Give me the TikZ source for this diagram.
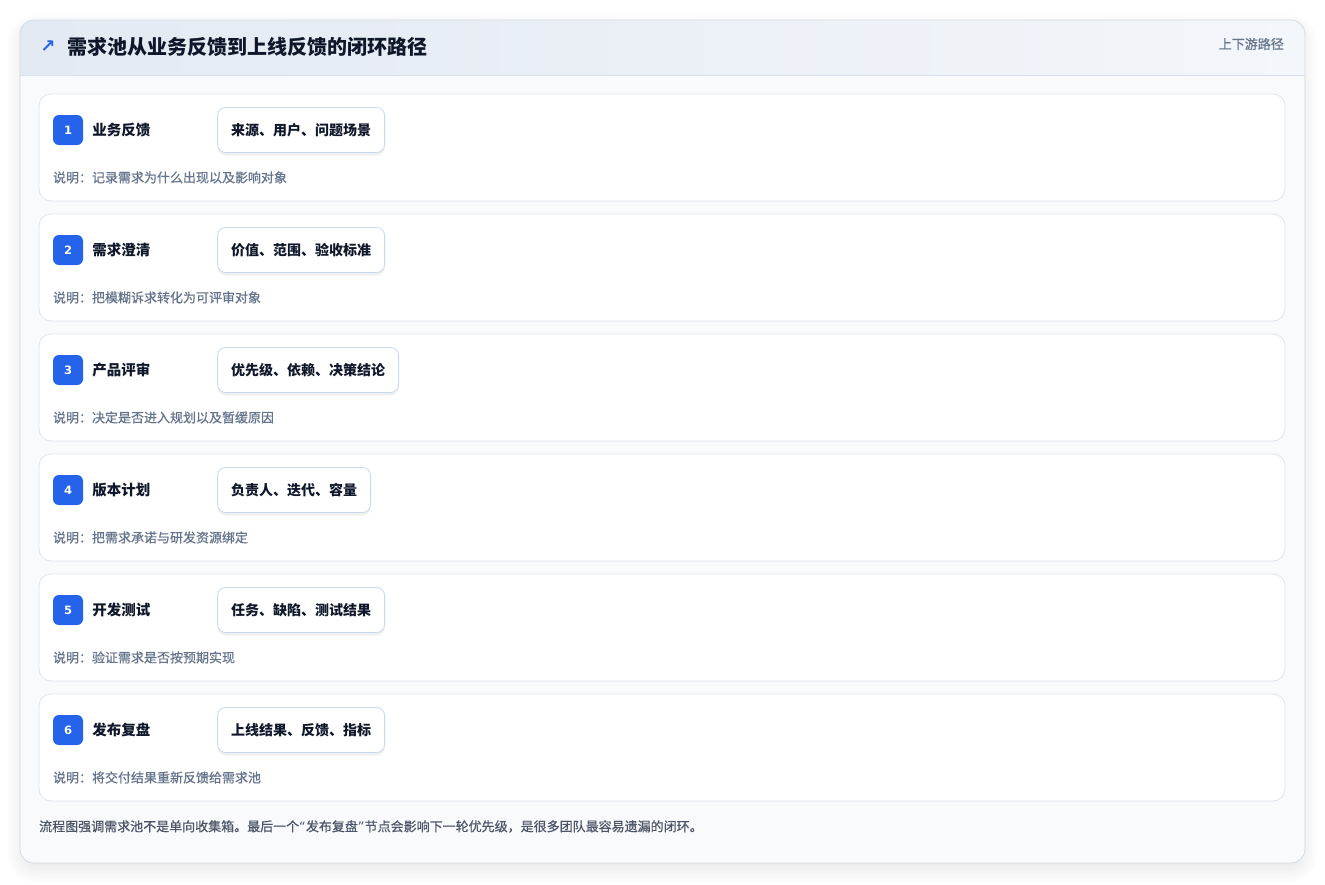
\documentclass[tikz,border=0pt]{standalone}
\usepackage{fontspec}
\setmainfont{Noto Sans CJK SC}
\newfontfamily\symfont{DejaVu Sans}
\usetikzlibrary{positioning, calc, shadows, shadows.blur}

\definecolor{cardline}{HTML}{D3DAE3}
\definecolor{cardfill}{HTML}{F8FAFC}
\definecolor{headleft}{HTML}{E3EAF3}
\definecolor{headright}{HTML}{F3F6FA}
\definecolor{headline}{HTML}{D6E0EC}
\definecolor{rowline}{HTML}{DCE5F0}
\definecolor{tagline}{HTML}{C9D8EC}
\definecolor{badgeblue}{HTML}{2563EB}
\definecolor{ink}{HTML}{0F172A}
\definecolor{notegray}{HTML}{64748B}
\definecolor{footgray}{HTML}{4B5567}

\tikzset{
    rowbox/.style={draw=rowline, fill=white, rounded corners=12pt, line width=0.8pt,
        minimum width=1246pt, minimum height=107pt, inner sep=0pt, outer sep=0pt},
    badge/.style={fill=badgeblue, rounded corners=6pt, minimum size=30pt, inner sep=0pt,
        text=white, font=\symfont\bfseries\fontsize{11.5}{12}\selectfont},
    steptitle/.style={inner sep=0pt, text=ink, font=\bfseries\fontsize{14.5}{15}\selectfont},
    tagbox/.style={draw=tagline, fill=white, rounded corners=8pt, line width=0.8pt,
        minimum height=45pt, inner xsep=13.5pt, text=ink,
        font=\bfseries\fontsize{14}{14}\selectfont,
        drop shadow={shadow xshift=0pt, shadow yshift=-3pt, opacity=0.06, fill=black}},
    note/.style={inner sep=0pt, text=notegray,
        font=\fontsize{13}{13}\selectfont\addfontfeature{FakeBold=0.6}},
}

\begin{document}
\begin{tikzpicture}[x=1pt, y=-1pt, node distance=13pt]

    \useasboundingbox (0,0) rectangle (1325,884);

    % outer card
    \path[fill=cardfill, rounded corners=14pt,
        blur shadow={shadow xshift=0pt, shadow yshift=-7pt, shadow opacity=10,
            shadow blur radius=14pt, shadow blur steps=14}]
        (20,20) rectangle (1305,863);
    \begin{scope}
        \clip[rounded corners=14pt] (20,20) rectangle (1305,863);
        \shade[left color=headleft, right color=headright] (20,20) rectangle (1305,75);
    \end{scope}
    \draw[headline, line width=0.8pt] (20.4,75) -- (1304.6,75);
    \draw[cardline, line width=0.8pt, rounded corners=14pt] (20,20) rectangle (1305,863);

    % header
    \node[text=badgeblue, font=\symfont\bfseries\fontsize{18}{18}\selectfont, inner sep=0pt]
        (arrow) at (48,47) {↗};
    \node[anchor=west, inner sep=0pt, text=ink, font=\bfseries\fontsize{20}{20}\selectfont]
        (title) at (67,47) {需求池从业务反馈到上线反馈的闭环路径};
    \node[anchor=east, inner sep=0pt, text=notegray,
        font=\fontsize{13}{13}\selectfont\addfontfeature{FakeBold=0.6}]
        (scope) at (1284,44) {上下游路径};

    % rows
    \node[rowbox, anchor=north west] (row1) at (39,94) {};
    \node[rowbox, below=of row1] (row2) {};
    \node[rowbox, below=of row2] (row3) {};
    \node[rowbox, below=of row3] (row4) {};
    \node[rowbox, below=of row4] (row5) {};
    \node[rowbox, below=of row5] (row6) {};

    \node[badge] (b1) at ($(row1.north west)+(29,36)$) {1};
    \node[steptitle, right=9pt of b1] (s1) {业务反馈};
    \node[tagbox, right=134pt of b1] (t1) {来源、用户、问题场景};
    \node[note, below right=26pt and 0pt of b1.south west] (n1) {说明：记录需求为什么出现以及影响对象};

    \node[badge] (b2) at ($(row2.north west)+(29,36)$) {2};
    \node[steptitle, right=9pt of b2] (s2) {需求澄清};
    \node[tagbox, right=134pt of b2] (t2) {价值、范围、验收标准};
    \node[note, below right=26pt and 0pt of b2.south west] (n2) {说明：把模糊诉求转化为可评审对象};

    \node[badge] (b3) at ($(row3.north west)+(29,36)$) {3};
    \node[steptitle, right=9pt of b3] (s3) {产品评审};
    \node[tagbox, right=134pt of b3] (t3) {优先级、依赖、决策结论};
    \node[note, below right=26pt and 0pt of b3.south west] (n3) {说明：决定是否进入规划以及暂缓原因};

    \node[badge] (b4) at ($(row4.north west)+(29,36)$) {4};
    \node[steptitle, right=9pt of b4] (s4) {版本计划};
    \node[tagbox, right=134pt of b4] (t4) {负责人、迭代、容量};
    \node[note, below right=26pt and 0pt of b4.south west] (n4) {说明：把需求承诺与研发资源绑定};

    \node[badge] (b5) at ($(row5.north west)+(29,36)$) {5};
    \node[steptitle, right=9pt of b5] (s5) {开发测试};
    \node[tagbox, right=134pt of b5] (t5) {任务、缺陷、测试结果};
    \node[note, below right=26pt and 0pt of b5.south west] (n5) {说明：验证需求是否按预期实现};

    \node[badge] (b6) at ($(row6.north west)+(29,36)$) {6};
    \node[steptitle, right=9pt of b6] (s6) {发布复盘};
    \node[tagbox, right=134pt of b6] (t6) {上线结果、反馈、指标};
    \node[note, below right=26pt and 0pt of b6.south west] (n6) {说明：将交付结果重新反馈给需求池};

    % footer
    \node[inner sep=0pt, text=footgray,
        font=\fontsize{13}{13}\selectfont\addfontfeature{FakeBold=0.6},
        below right=19pt and 0pt of row6.south west] (foot)
        {流程图强调需求池不是单向收集箱。最后一个{\symfont “}发布复盘{\symfont ”}节点会影响下一轮优先级，是很多团队最容易遗漏的闭环。};

\end{tikzpicture}
\end{document}
